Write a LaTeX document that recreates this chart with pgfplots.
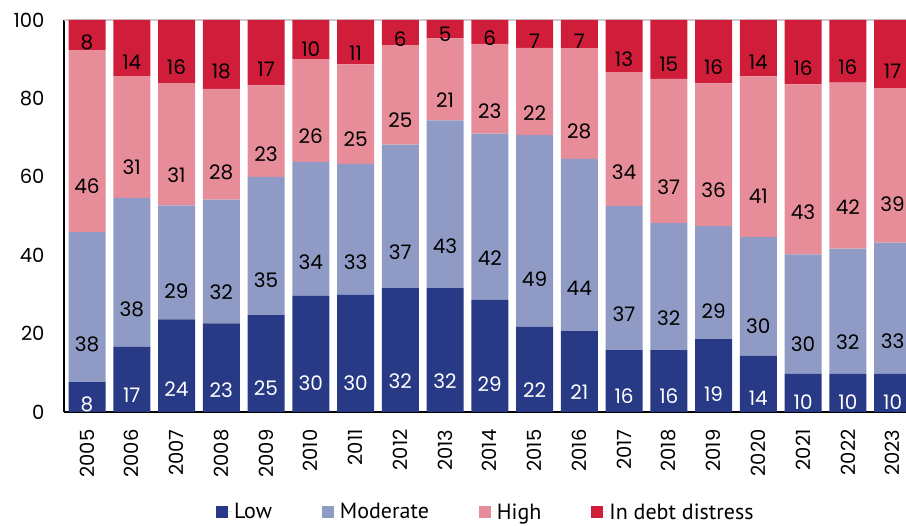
\documentclass[border=0pt]{standalone}
\usepackage{fontspec}
\setmainfont{Poppins}
\newfontfamily\legfont{PT Sans}
\usepackage{pgfplots}
\pgfplotsset{compat=1.18}
\definecolor{cLow}{HTML}{283A86}
\definecolor{cMod}{HTML}{8F9BC5}
\definecolor{cHigh}{HTML}{E78D9A}
\definecolor{cDis}{HTML}{D01E3A}
\newcommand\lbl{\fontsize{20bp}{24bp}\selectfont}
\newcommand\tkl{\fontsize{19.5bp}{24bp}\selectfont}
\newcommand\lgf{\legfont\fontsize{22bp}{26bp}\selectfont}
\pgfplotsset{calcoff/.code={%
  \pgfkeys{/pgf/fpu=true,/pgf/fpu/output format=fixed}%
  \pgfmathsetmacro\myoff{\pgfplotspointmeta*0.98}%
  \global\let\myoff\myoff
  \pgfkeys{/pgf/fpu=false}}}
\begin{document}
\begin{tikzpicture}[x=1bp,y=1bp]
\begin{axis}[
  at={(0,0)}, anchor=south west,
  scale only axis, width=842bp, height=392bp,
  ybar stacked, bar width=37bp,
  xmin=-0.514, xmax=18.30, ymin=0, ymax=100,
  ytick={0,20,40,60,80,100},
  xtick={0,...,18},
  xticklabels={2005,2006,2007,2008,2009,2010,2011,2012,2013,2014,2015,2016,2017,2018,2019,2020,2021,2022,2023},
  axis x line=bottom, axis y line=left,
  axis line style={-, black, line width=1.2bp},
  major tick length=0pt,
  /pgf/number format/assume math mode=true,
  tick label style={font=\tkl},
  yticklabel style={anchor=east, xshift=-16bp},
  xticklabel style={yshift=-14bp, rotate=90, anchor=east},
  nodes near coords={\pgfmathprintnumber[fixed,precision=0]{\pgfplotspointmeta}},
  nodes near coords align=center,
  every node near coord/.append style={font=\lbl, anchor=center, /pgfplots/calcoff, yshift=-\myoff bp},
  legend style={draw=none, fill=none, at={(0.501,-0.255)}, anchor=center, legend columns=-1,
    font=\lgf, /tikz/every even column/.append style={column sep=48bp}},
  legend image code/.code={\fill[#1] (0bp,-6.5bp) rectangle (12bp,5.5bp); \path (0bp,0bp) -- (16bp,0bp);},
]
\addplot[fill=cLow, draw=none, every node near coord/.append style={text=white}] coordinates {
(0,7.6)(1,16.6)(2,23.6)(3,22.6)(4,24.7)(5,29.6)(6,29.9)(7,31.6)(8,31.6)(9,28.6)(10,21.8)(11,20.6)(12,15.8)(13,15.8)(14,18.6)(15,14.3)(16,9.8)(17,9.8)(18,9.8)};
\addplot[fill=cMod, draw=none, every node near coord/.append style={text=black}] coordinates {
(0,38.3)(1,38.0)(2,29.1)(3,31.6)(4,35.3)(5,34.2)(6,33.4)(7,36.6)(8,42.8)(9,42.4)(10,48.8)(11,44.0)(12,36.8)(13,32.4)(14,28.8)(15,30.4)(16,30.4)(17,31.9)(18,33.4)};
\addplot[fill=cHigh, draw=none, every node near coord/.append style={text=black}] coordinates {
(0,46.4)(1,31.1)(2,31.2)(3,28.2)(4,23.3)(5,26.2)(6,25.4)(7,25.4)(8,20.9)(9,22.9)(10,22.3)(11,28.2)(12,34.1)(13,36.8)(14,36.4)(15,40.9)(16,43.4)(17,42.3)(18,39.4)};
\addplot[fill=cDis, draw=none, every node near coord/.append style={text=black}] coordinates {
(0,7.7)(1,14.3)(2,16.1)(3,17.6)(4,16.7)(5,10.0)(6,11.3)(7,6.4)(8,4.7)(9,6.1)(10,7.1)(11,7.2)(12,13.3)(13,15.0)(14,16.2)(15,14.4)(16,16.4)(17,16.0)(18,17.4)};
\legend{Low,Moderate,High,In debt distress}
\draw[gray!40, line width=1.2bp] (rel axis cs:0,1) -- (rel axis cs:1,1);
\end{axis}
\pgfresetboundingbox
\path[use as bounding box] (-64,-114) rectangle (842,412);
\end{tikzpicture}
\end{document}
